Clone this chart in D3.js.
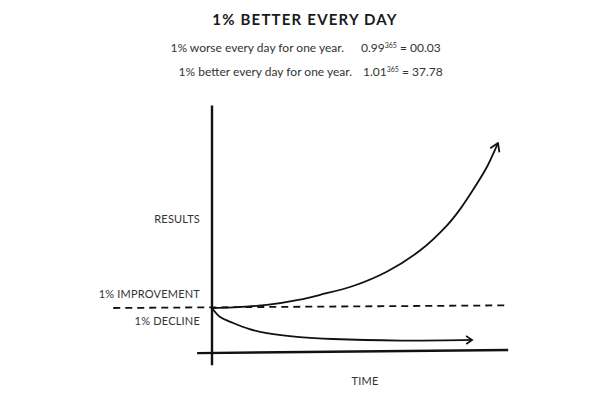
<!DOCTYPE html>
<html>
<head>
<meta charset="utf-8">
<script src="https://cdn.jsdelivr.net/npm/d3@7"></script>
<style>
  body { margin: 0; background: #fff; }
  text { font-family: Lato, "Open Sans", sans-serif; fill: #333; }
</style>
</head>
<body>
<div id="chart"></div>
<script>
// values (arbitrary "results" units, days on x)
var title = "1% BETTER EVERY DAY";
var noteTexts = ["1% worse every day for one year.", "1% better every day for one year."];
var noteBases = ["0.99", "1.01"];
var noteExps = ["365", "365"];
var noteResults = ["00.03", "37.78"];

var improveDays = [0, 27, 70, 112, 138, 180, 223, 265, 300, 316, 333, 351, 361, 365];
var improveValues = [10, 10.15, 10.7, 11.9, 13.0, 15.0, 18.25, 23.0, 28.8, 32.3, 36.8, 42.1, 45.9, 47.5];

var declineDays = [0, 10, 27, 48, 70, 112, 154, 240, 332];
var declineValues = [10, 8.0, 6.6, 5.2, 4.3, 3.4, 2.95, 2.6, 2.75];

var baselineDays = [-126, 378];
var baselineValues = [10, 10.6];

var xAxisDays = [-19, 378];
var xAxisValues = [-0.25, 0.45];
var yAxisValues = [-3, 56];

var labelTexts = ["RESULTS", "1% IMPROVEMENT", "1% DECLINE"];
var labelValues = [29.3, 12.3, 6.1];
var xLabel = "TIME";

var width = 600, height = 400;

var svg = d3.select("#chart")
  .append("svg")
    .attr("width", width)
    .attr("height", height);

var x = d3.scaleLinear().domain([0, 365]).range([212, 498]);
var y = d3.scaleLinear().domain([0, 56]).range([352, 105.6]);

// arrow heads
var defs = svg.append("defs");
defs.append("marker")
    .attr("id", "arrowBig")
    .attr("markerUnits", "userSpaceOnUse")
    .attr("viewBox", "-10 -6 12 12")
    .attr("markerWidth", 12).attr("markerHeight", 12)
    .attr("refX", 0).attr("refY", 0)
    .attr("orient", "auto")
  .append("path")
    .attr("d", "M-8,-5 L0,0 L-8,5")
    .attr("fill", "none").attr("stroke", "#111").attr("stroke-width", 1.8)
    .attr("stroke-linejoin", "round");
defs.append("marker")
    .attr("id", "arrowSmall")
    .attr("markerUnits", "userSpaceOnUse")
    .attr("viewBox", "-10 -6 12 12")
    .attr("markerWidth", 12).attr("markerHeight", 12)
    .attr("refX", 0).attr("refY", 0)
    .attr("orient", "auto")
  .append("path")
    .attr("d", "M-6,-4 L0,0 L-6,4")
    .attr("fill", "none").attr("stroke", "#111").attr("stroke-width", 1.6);

// title and notes
svg.append("text")
    .attr("x", 305).attr("y", 25)
    .attr("text-anchor", "middle")
    .style("font-size", "15px").style("font-weight", "bold")
    .style("letter-spacing", "1.2px")
    .style("fill", "#1a1a1a")
    .text(title);

noteTexts.forEach(function(t, i) {
  var yy = 52 + i * 24;
  svg.append("text")
      .attr("x", i == 0 ? 344 : 352).attr("y", yy)
      .attr("text-anchor", "end")
      .style("font-size", "12px")
      .text(t);
  var f = svg.append("text")
      .attr("x", i == 0 ? 361 : 363).attr("y", yy)
      .style("font-size", "12px");
  f.append("tspan").text(noteBases[i]);
  f.append("tspan").attr("dy", -4).style("font-size", "7px").text(noteExps[i]);
  f.append("tspan").attr("dy", 4).text(" = " + noteResults[i]);
});

// axes (hand drawn lines, no ticks)
svg.append("line")
    .attr("x1", x(0)).attr("x2", x(0))
    .attr("y1", y(yAxisValues[1])).attr("y2", y(yAxisValues[0]))
    .attr("stroke", "#111").attr("stroke-width", 2.4);
svg.append("line")
    .attr("x1", x(xAxisDays[0])).attr("x2", x(xAxisDays[1]))
    .attr("y1", y(xAxisValues[0])).attr("y2", y(xAxisValues[1]))
    .attr("stroke", "#111").attr("stroke-width", 2.4);

// dashed baseline
svg.append("line")
    .attr("x1", x(baselineDays[0])).attr("x2", x(baselineDays[1]))
    .attr("y1", y(baselineValues[0])).attr("y2", y(baselineValues[1]))
    .attr("stroke", "#111").attr("stroke-width", 1.8)
    .attr("stroke-dasharray", "7,5");

var line = d3.line()
    .x(function(d) { return x(d[0]); })
    .y(function(d) { return y(d[1]); })
    .curve(d3.curveCatmullRom.alpha(0.5));

svg.append("path")
    .datum(d3.zip(improveDays, improveValues))
    .attr("d", line)
    .attr("fill", "none").attr("stroke", "#111").attr("stroke-width", 1.8)
    .attr("marker-end", "url(#arrowBig)");

svg.append("path")
    .datum(d3.zip(declineDays, declineValues))
    .attr("d", line)
    .attr("fill", "none").attr("stroke", "#111").attr("stroke-width", 1.8)
    .attr("marker-end", "url(#arrowSmall)");

// labels
labelTexts.forEach(function(t, i) {
  svg.append("text")
      .attr("x", 200).attr("y", y(labelValues[i]))
      .attr("text-anchor", "end")
      .style("font-size", "11px")
      .style("letter-spacing", "0.2px")
      .text(t);
});

svg.append("text")
    .attr("x", 365).attr("y", 385)
    .attr("text-anchor", "middle")
    .style("font-size", "11px")
    .style("letter-spacing", "0.2px")
    .text(xLabel);
</script>
</body>
</html>
